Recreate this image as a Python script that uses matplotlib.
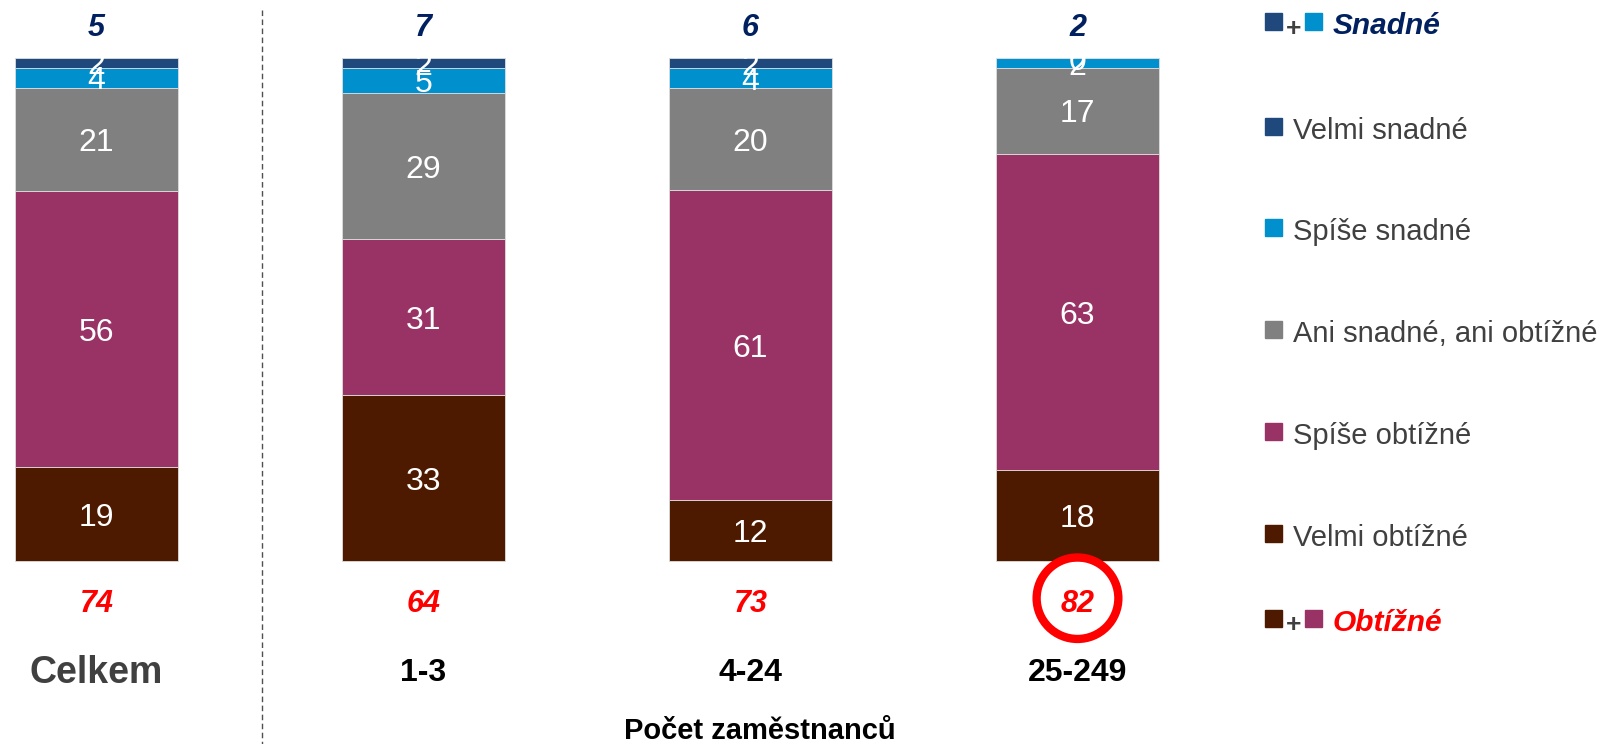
import matplotlib.pyplot as plt
from matplotlib.patches import Ellipse, Rectangle
import numpy as np

plt.rcParams['font.family'] = ['Liberation Sans', 'DejaVu Sans']

# data
groups = ["Celkem", "1-3", "4-24", "25-249"]
velmi_snadne = [2, 2, 2, 0]
spise_snadne = [4, 5, 4, 2]
ani = [21, 29, 20, 17]
spise_obtizne = [56, 31, 61, 63]
velmi_obtizne = [19, 33, 12, 18]
snadne_total = [5, 7, 6, 2]
obtizne_total = [74, 64, 73, 82]

series = [velmi_obtizne, spise_obtizne, ani, spise_snadne, velmi_snadne]
colors = ["#4D1A00", "#993366", "#808080", "#0090CD", "#1F497D"]
legend_labels = ["Velmi snadné", "Spíše snadné", "Ani snadné, ani obtížné",
                 "Spíše obtížné", "Velmi obtížné"]
legend_colors = ["#1F497D", "#0090CD", "#808080", "#993366", "#4D1A00"]

W, H = 1602, 744
fig = plt.figure(figsize=(W / 100, H / 100), dpi=100)
ax = fig.add_axes([0, 0, 1, 1])
ax.axis('off')

# pixel layout -> data limits
x0_px, step_px = 96.5, 327.0
base_px, unit_px = 183.0, 5.03
ax.set_xlim(-x0_px / step_px, (W - x0_px) / step_px)
ax.set_ylim(-base_px / unit_px, (H - base_px) / unit_px)

x = np.arange(len(groups))
vals = np.array(series, dtype=float)
shares = vals / vals.sum(axis=0) * 100
bottom = np.zeros(len(groups))
for i in range(len(series)):
    ax.bar(x, shares[i], 0.5, bottom=bottom, color=colors[i],
           edgecolor="#dddddd", linewidth=0.6)
    for j in range(len(groups)):
        ax.text(x[j], bottom[j] + shares[i][j] / 2, str(series[i][j]),
                ha='center', va='center_baseline', color='white', fontsize=23)
    bottom += shares[i]

for j in range(len(groups)):
    ax.text(x[j], 106.7, str(snadne_total[j]), ha='center', va='center_baseline',
            color='#002060', fontsize=22, fontweight='bold', style='italic')
    ax.text(x[j], -7.8, str(obtizne_total[j]), ha='center', va='center_baseline',
            color='red', fontsize=22, fontweight='bold', style='italic')
    if j == 0:
        ax.text(x[j], -21.5, groups[j], ha='center', va='center_baseline',
                color='#404040', fontsize=27, fontweight='bold')
    else:
        ax.text(x[j], -21.5, groups[j], ha='center', va='center_baseline',
                color='black', fontsize=23, fontweight='bold')

ax.text(2.03, -33.3, "Počet zaměstnanců", ha='center', va='center_baseline',
        color='black', fontsize=21, fontweight='bold')

# dashed separator
ax.plot([0.506, 0.506], [109.5, -40], color='#505050', lw=1.0,
        linestyle=(0, (4, 2.5)))

# highlight circle
ax.add_patch(Ellipse((3.0, -7.4), 0.25, 16.2, fill=False,
                     edgecolor='red', lw=6))

# legend
def fx(px):
    return px / W

def fy(py):
    return 1 - py / H

sq = 17
rows = [23, 128, 229, 331, 433, 535, 620]

def square(px, py, c):
    fig.patches.append(Rectangle((fx(px), fy(py + sq / 2)), sq / W, sq / H,
                                 transform=fig.transFigure, color=c))

# combined rows
for py, c1, c2, lab, tc in [(rows[0], "#1F497D", "#0090CD", "Snadné", "#002060"),
                            (rows[-1], "#4D1A00", "#993366", "Obtížné", "red")]:
    square(1265, py - 2, c1)
    fig.text(fx(1294), fy(py + 3), "+", ha='center', va='center_baseline',
             color='#404040', fontsize=19, fontweight='bold')
    square(1305, py - 2, c2)
    fig.text(fx(1333), fy(py), lab, ha='left', va='center_baseline', color=tc,
             fontsize=21.5, fontweight='bold', style='italic')

for k, (lab, c) in enumerate(zip(legend_labels, legend_colors)):
    py = rows[k + 1]
    square(1265, py - 2, c)
    fig.text(fx(1293), fy(py), lab, ha='left', va='center_baseline',
             color='#404040', fontsize=21)

fig.savefig("out.png", dpi=100)
